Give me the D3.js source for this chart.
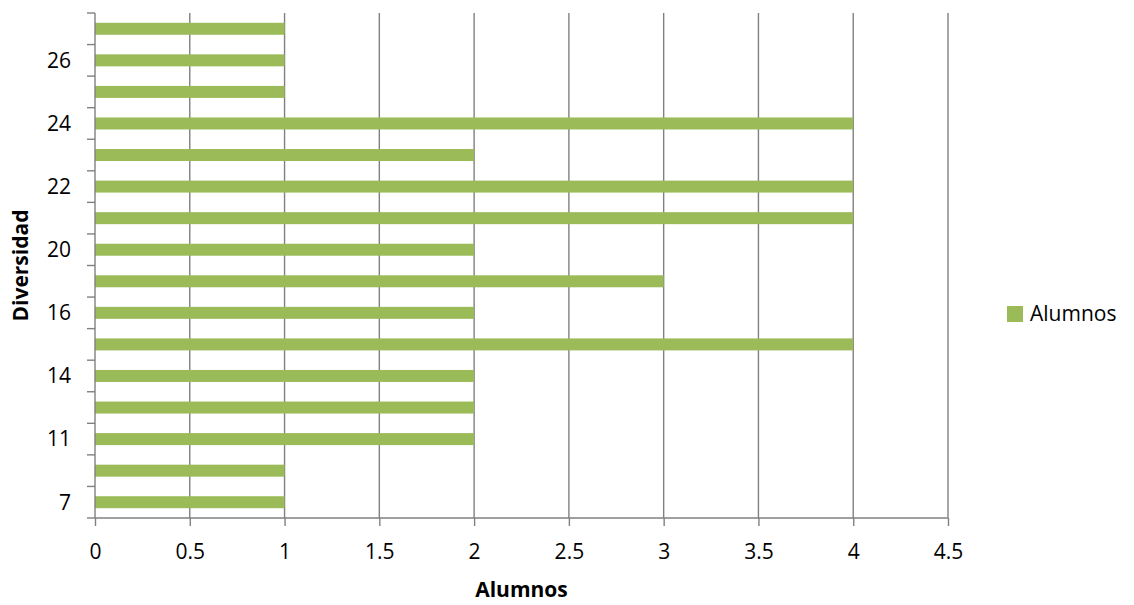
<!DOCTYPE html>
<html>
<head>
<meta charset="utf-8">
<script src="https://cdn.jsdelivr.net/npm/d3@7"></script>
<style>
  html, body { margin: 0; padding: 0; background: #fff; }
  svg { display: block; font-family: "Open Sans", sans-serif; }
</style>
</head>
<body>
<svg id="chart" width="1134" height="605"></svg>
<script>
// Diversidad categories (bottom to top); only every other label is shown on the axis
const categories = ["7", "10", "11", "13", "14", "15", "16", "18", "20", "21", "22", "23", "24", "25", "26", "27"];
const alumnos = [1, 1, 2, 2, 2, 4, 2, 3, 2, 4, 4, 2, 4, 1, 1, 1];
const xTicks = [0, 0.5, 1, 1.5, 2, 2.5, 3, 3.5, 4, 4.5];
const seriesName = "Alumnos";

const svg = d3.select("#chart");
const margin = { left: 95, right: 186, top: 13, bottom: 87 };
const W = 1134, H = 605;
const innerW = W - margin.left - margin.right;
const innerH = H - margin.top - margin.bottom;

const x = d3.scaleLinear().domain([0, 4.5]).range([margin.left, margin.left + innerW]);
const y = d3.scaleBand().domain(categories.slice().reverse())
  .range([margin.top, margin.top + innerH]).paddingInner(0.62).paddingOuter(0.31);
const yBounds = d3.scaleBand().domain(categories.slice().reverse())
  .range([margin.top, margin.top + innerH]);

const gridColor = "#808080";

// vertical gridlines
svg.append("g").selectAll("line").data(xTicks.slice(1)).join("line")
  .attr("x1", d => x(d)).attr("x2", d => x(d))
  .attr("y1", margin.top).attr("y2", margin.top + innerH)
  .attr("stroke", gridColor).attr("stroke-width", 1.4);

// bars
const data = categories.map((c, i) => ({ c, v: alumnos[i] }));
svg.append("g").selectAll("rect").data(data).join("rect")
  .attr("x", x(0))
  .attr("y", d => y(d.c))
  .attr("width", d => x(d.v) - x(0))
  .attr("height", y.bandwidth())
  .attr("fill", "#9BBB59");

// x axis
const xAxis = d3.axisBottom(x).tickValues(xTicks).tickSize(8).tickPadding(18)
  .tickFormat(d => String(d));
const gx = svg.append("g").attr("transform", `translate(0,${margin.top + innerH})`).call(xAxis);
gx.select(".domain").attr("stroke", gridColor).attr("stroke-width", 1.4)
  .attr("d", `M${x(0)},0H${x(4.5)}`);
gx.selectAll(".tick line").attr("stroke", gridColor).attr("stroke-width", 1.4);
gx.selectAll(".tick text").attr("font-size", 21).attr("fill", "#000")
  .attr("font-family", "Open Sans, sans-serif");

// y axis: ticks at category boundaries, labels on alternate categories
const boundaries = categories.map(c => yBounds(c)).concat([margin.top + innerH]);
const gy = svg.append("g");
gy.append("line").attr("x1", x(0)).attr("x2", x(0))
  .attr("y1", margin.top).attr("y2", margin.top + innerH)
  .attr("stroke", gridColor).attr("stroke-width", 1.4);
gy.selectAll("line.tk").data(boundaries).join("line").attr("class", "tk")
  .attr("x1", x(0) - 8).attr("x2", x(0))
  .attr("y1", d => d).attr("y2", d => d)
  .attr("stroke", gridColor).attr("stroke-width", 1.4);
gy.selectAll("text").data(categories.filter((c, i) => i % 2 === 0)).join("text")
  .attr("x", x(0) - 24)
  .attr("y", d => yBounds(d) + yBounds.bandwidth() / 2)
  .attr("dy", "0.35em")
  .attr("text-anchor", "end")
  .attr("font-size", 21)
  .text(d => d);

// axis titles
svg.append("text")
  .attr("x", x(2.25)).attr("y", 597)
  .attr("text-anchor", "middle").attr("font-size", 21).attr("font-weight", "bold")
  .text("Alumnos");
svg.append("text")
  .attr("transform", `translate(28,${margin.top + innerH / 2}) rotate(-90)`)
  .attr("text-anchor", "middle").attr("font-size", 21).attr("font-weight", "bold")
  .text("Diversidad");

// legend
const lg = svg.append("g").attr("transform", "translate(1007,306)");
lg.append("rect").attr("width", 16).attr("height", 16).attr("fill", "#9BBB59");
lg.append("text").attr("x", 23).attr("y", 8).attr("dy", "0.35em")
  .attr("font-size", 21).text(seriesName);
</script>
</body>
</html>
